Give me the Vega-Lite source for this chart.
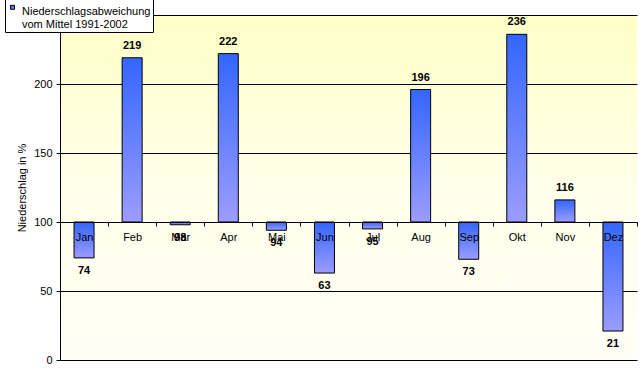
{
  "$schema": "https://vega.github.io/schema/vega-lite/v6.json",
  "autosize": "none",
  "width": 577,
  "height": 345,
  "padding": {"left": 60, "top": 15, "right": 6, "bottom": 15},
  "background": "white",
  "config": {
    "view": {
      "stroke": null,
      "fill": {
        "gradient": "linear", "x1": 0, "y1": 0, "x2": 0, "y2": 1,
        "stops": [
          {"offset": 0, "color": "#FFFFC6"},
          {"offset": 0.5, "color": "#FFFFEA"},
          {"offset": 1, "color": "#FFFFF6"}
        ]
      }
    },
    "font": "Liberation Sans"
  },
  "data": {
    "values": [
      {"monat": "Jan", "wert": 74, "serie": "Niederschlagsabweichung vom Mittel 1991-2002"},
      {"monat": "Feb", "wert": 219, "serie": "Niederschlagsabweichung vom Mittel 1991-2002"},
      {"monat": "Mär", "wert": 98, "serie": "Niederschlagsabweichung vom Mittel 1991-2002"},
      {"monat": "Apr", "wert": 222, "serie": "Niederschlagsabweichung vom Mittel 1991-2002"},
      {"monat": "Mai", "wert": 94, "serie": "Niederschlagsabweichung vom Mittel 1991-2002"},
      {"monat": "Jun", "wert": 63, "serie": "Niederschlagsabweichung vom Mittel 1991-2002"},
      {"monat": "Jul", "wert": 95, "serie": "Niederschlagsabweichung vom Mittel 1991-2002"},
      {"monat": "Aug", "wert": 196, "serie": "Niederschlagsabweichung vom Mittel 1991-2002"},
      {"monat": "Sep", "wert": 73, "serie": "Niederschlagsabweichung vom Mittel 1991-2002"},
      {"monat": "Okt", "wert": 236, "serie": "Niederschlagsabweichung vom Mittel 1991-2002"},
      {"monat": "Nov", "wert": 116, "serie": "Niederschlagsabweichung vom Mittel 1991-2002"},
      {"monat": "Dez", "wert": 21, "serie": "Niederschlagsabweichung vom Mittel 1991-2002"}
    ]
  },
  "encoding": {
    "x": {
      "field": "monat", "type": "nominal", "sort": null,
      "scale": {"paddingInner": 0, "paddingOuter": 0},
      "axis": {
        "title": null, "orient": "bottom", "offset": -138, "labelAngle": 0,
        "tickBand": "extent", "tickSize": 4, "tickColor": "black",
        "domainColor": "black", "labelColor": "black", "labelFontSize": 11,
        "labelPadding": 5, "labelFont": "Liberation Sans", "zindex": 2
      }
    }
  },
  "layer": [
    {
      "mark": {
        "type": "bar", "width": 20, "stroke": "black", "strokeWidth": 1,
        "fill": {
          "gradient": "linear", "x1": 0, "y1": 0, "x2": 0, "y2": 1,
          "stops": [
            {"offset": 0, "color": "#3366FF"},
            {"offset": 1, "color": "#9C9CFF"}
          ]
        }
      },
      "encoding": {
        "y": {
          "field": "wert", "type": "quantitative",
          "scale": {"domain": [0, 250], "nice": false, "zero": true},
          "axis": {
            "title": "Niederschlag in %", "titleFontSize": 11, "titleFontWeight": "normal",
            "titleColor": "black", "titlePadding": 6, "titleFont": "Liberation Sans",
            "values": [0, 50, 100, 150, 200, 250],
            "labelExpr": "datum.value == 250 ? '' : datum.label",
            "grid": true, "gridColor": "black", "gridOpacity": 1, "gridWidth": 1,
            "tickSize": 4, "tickColor": "black", "domainColor": "black",
            "labelColor": "black", "labelFontSize": 11, "labelPadding": 4,
            "labelFont": "Liberation Sans"
          }
        },
        "y2": {"datum": 100}
      }
    },
    {
      "mark": {"type": "square", "filled": true, "opacity": 0},
      "encoding": {
        "y": {"field": "wert", "type": "quantitative"},
        "color": {
          "field": "serie", "type": "nominal",
          "scale": {"range": ["#5C78FF"]},
          "legend": {
            "title": null, "orient": "none", "legendX": -55, "legendY": -17,
            "strokeColor": "black", "fillColor": "white", "padding": 2,
            "symbolType": "M-1,-0.1H1V1.9H-1Z", "symbolSize": 16, "symbolOpacity": 1,
            "symbolFillColor": "#5C78FF", "symbolStrokeColor": "black", "symbolStrokeWidth": 1,
            "labelFontSize": 11, "labelFont": "Liberation Sans", "labelColor": "black",
            "labelExpr": "['Niederschlagsabweichung', 'vom Mittel 1991-2002']",
            "labelLimit": 300, "labelOffset": 4, "labelBaseline": "top",
            "labelLineHeight": 14, "symbolOffset": 0
          }
        }
      }
    },
    {
      "transform": [{"filter": "datum.wert >= 100"}],
      "mark": {"type": "text", "fontWeight": "bold", "fontSize": 11, "dy": -12, "color": "black"},
      "encoding": {
        "y": {"field": "wert", "type": "quantitative"},
        "text": {"field": "wert", "type": "quantitative"}
      }
    },
    {
      "transform": [{"filter": "datum.wert < 100"}],
      "mark": {"type": "text", "fontWeight": "bold", "fontSize": 11, "dy": 13, "color": "black"},
      "encoding": {
        "y": {"field": "wert", "type": "quantitative"},
        "text": {"field": "wert", "type": "quantitative"}
      }
    }
  ]
}
